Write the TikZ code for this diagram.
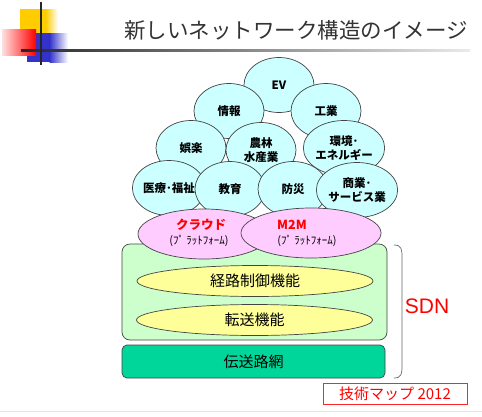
\documentclass[tikz,border=0pt]{standalone}
\usepackage{fontspec}
\setmainfont{Liberation Sans}
\newfontfamily\jp{Noto Sans CJK JP}
\usetikzlibrary{shapes.geometric}
\definecolor{cyanfill}{HTML}{CCFFFF}
\definecolor{pinkfill}{HTML}{FFCCFF}
\definecolor{lgreen}{HTML}{CCFFCC}
\definecolor{yelfill}{HTML}{FFFF99}
\definecolor{dgreen}{HTML}{00D69A}
\definecolor{outl}{HTML}{444444}
\definecolor{logoyel}{HTML}{FFCC00}
\definecolor{logoblue}{HTML}{3333CC}
\tikzset{
  topic/.style={ellipse, draw=outl, line width=0.7pt, fill=cyanfill, minimum width=70pt, minimum height=55pt, inner sep=0pt, align=center, font=\jp\bfseries\fontsize{11.5}{14}\selectfont},
  plat/.style={ellipse, draw=outl, line width=0.7pt, fill=pinkfill, inner sep=0pt},
  func/.style={ellipse, draw=outl, line width=0.7pt, fill=yelfill, minimum width=236pt, minimum height=31pt, inner sep=0pt, font=\jp\fontsize{15}{17}\selectfont},
  labeltxt/.style={inner sep=0pt}
}
\begin{document}
\begin{tikzpicture}[x=1pt,y=-1pt]
\useasboundingbox[fill=white] (0,0) rectangle (482,416);
% logo
\fill[logoyel] (20,9) rectangle (46,33);
\shade[left color=logoyel, right color=white] (45.5,9) rectangle (58,33);
\fill[logoblue] (27,33) rectangle (50,62);
\shade[left color=logoblue, right color=white] (49.5,33) rectangle (68,62);
\shade[left color=red!12, right color=red] (2,29) rectangle (36,55);
\shade[left color=black!85, right color=black!8] (21,49.5) rectangle (470,51.5);
\draw[black!85, line width=1.8pt] (41,2) -- (41,65);
% title
\node[labeltxt, font=\jp\fontsize{21.5}{24}\selectfont, text=black!80] (title) at (296,30) {新しいネットワーク構造のイメージ};
% layers
\node[draw=outl, line width=0.7pt, fill=lgreen, rounded corners=8pt, minimum width=265pt, minimum height=96pt, inner sep=0pt] (sdnbox) at (254.5,292) {};
\node[func] (route) at (255,281) {経路制御機能};
\node[func] (fwd) at (254.5,320) {転送機能};
\node[draw=outl, line width=0.7pt, fill=dgreen, rounded corners=5pt, minimum width=263pt, minimum height=33pt, inner sep=0pt, font=\jp\fontsize{15}{17}\selectfont] (trans) at (253.5,361.5) {伝送路網};
% topic circles
\node[topic] (ev) at (279,85) {EV};
\node[topic] (info) at (229,111) {情報};
\node[topic] (ind) at (326,111) {工業};
\node[topic] (ent) at (191,148) {娯楽};
\node[topic] (agr) at (261,150) {農林\\水産業};
\node[topic] (env) at (344,148) {環境･\\エネルギー};
\node[topic] (med) at (169,188) {医療･福祉};
\node[topic] (edu) at (230,189) {教育};
\node[topic] (dis) at (293,189) {防災};
\node[topic] (com) at (357,190) {商業･\\サービス業};
% platforms
\node[plat, minimum width=132pt, minimum height=50pt] (cloud) at (204,234) {};
\node[plat, minimum width=140pt, minimum height=50pt] (m2m) at (311,233) {};
\node[labeltxt, text=red, font=\jp\bfseries\fontsize{12.5}{14}\selectfont] (cloudt) at (201,225) {クラウド};
\node[labeltxt, font=\jp\fontsize{11}{12}\selectfont] (cloudp) at (199,241) {(ﾌﾟ ﾗｯﾄﾌｫｰﾑ)};
\node[labeltxt, text=red, font=\jp\bfseries\fontsize{12.5}{14}\selectfont] (m2mt) at (292,225) {M2M};
\node[labeltxt, font=\jp\fontsize{11}{12}\selectfont] (m2mp) at (307,241) {(ﾌﾟ ﾗｯﾄﾌｫｰﾑ)};
% brace
\coordinate (bt) at (394,245);
\coordinate (bb) at (394,378);
\draw[black!60, line width=0.7pt] (bt) .. controls (402,245) and (402,250) .. (402,258) -- (402,365) .. controls (402,373) and (402,378) .. (bb);
\node[labeltxt, text=red, font=\fontsize{21}{24}\selectfont] (sdn) at (427,306) {SDN};
% tech map box
\node[draw=red!85, line width=0.9pt, minimum width=144pt, minimum height=21pt, inner sep=0pt, text=red, font=\jp\fontsize{15}{17}\selectfont] (map) at (395,393.5) {技術マップ 2012};
\draw[black!10, line width=0.8pt] (0,411) -- (482,411);
\end{tikzpicture}
\end{document}
